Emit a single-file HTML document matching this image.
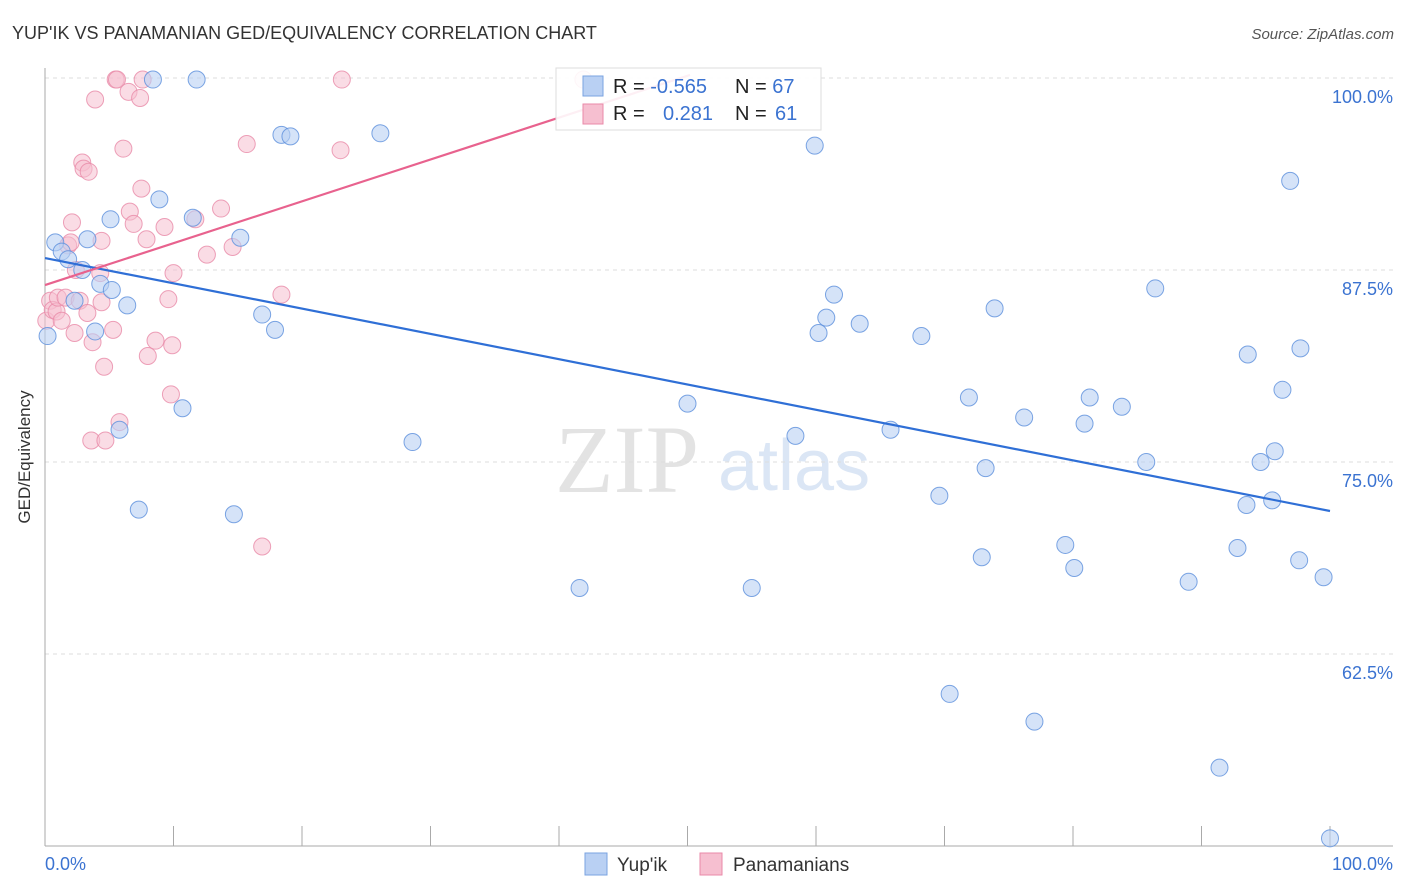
<!DOCTYPE html>
<html><head><meta charset="utf-8"><style>
body{margin:0;background:#fff;font-family:"Liberation Sans",sans-serif}
svg{display:block}
</style></head><body>
<svg id="c" width="1406" height="892" xmlns="http://www.w3.org/2000/svg">
<text x="12" y="39" font-size="18" fill="#333">YUP'IK VS PANAMANIAN GED/EQUIVALENCY CORRELATION CHART</text>
<text x="1394" y="39" font-size="15" fill="#555" font-style="italic" text-anchor="end">Source: ZipAtlas.com</text>
<text x="555" y="492" font-size="96" fill="#e3e3e3" font-family="Liberation Serif,serif">ZIP</text>
<text x="718" y="490" font-size="72" fill="#dbe6f5">atlas</text>
<g id="grid"></g>
<line x1="45" y1="68" x2="45" y2="846" stroke="#aaa"/>
<line x1="45" y1="846" x2="1393" y2="846" stroke="#aaa"/>
<text x="30" y="457" font-size="17" fill="#333" text-anchor="middle" transform="rotate(-90 30 457)">GED/Equivalency</text>
<text x="45" y="870" font-size="18" fill="#3b73d1">0.0%</text>
<text x="1393" y="870" font-size="18" fill="#3b73d1" text-anchor="end">100.0%</text>
<g id="pts"></g>
<g id="lines"></g>
<g>
<rect x="556" y="68" width="265" height="62" fill="#fff" fill-opacity="0.9" stroke="#ddd"/>
<rect x="583" y="76" width="20" height="20" fill="#b9d0f3" stroke="#7aa3e0"/>
<rect x="583" y="104" width="20" height="20" fill="#f6bfd0" stroke="#e98aa8"/>
<text x="613" y="93" font-size="20" fill="#222">R = <tspan fill="#3b73d1">-0.565</tspan><tspan x="735">N = </tspan><tspan fill="#3b73d1">67</tspan></text>
<text x="613" y="120" font-size="20" fill="#222">R = <tspan x="663" fill="#3b73d1">0.281</tspan><tspan x="735">N = </tspan><tspan x="775" fill="#3b73d1">61</tspan></text>
</g>
<g>
<rect x="585" y="853" width="22" height="22" fill="#b9d0f3" stroke="#7aa3e0"/>
<text x="617" y="871" font-size="19" fill="#333">Yup'ik</text>
<rect x="700" y="853" width="22" height="22" fill="#f6bfd0" stroke="#e98aa8"/>
<text x="733" y="871" font-size="19" fill="#333">Panamanians</text>
</g>
</svg>
<script>
const yTicks=[100,87.5,75,62.5];
const yTickLabels=["100.0%","87.5%","75.0%","62.5%"];
const xTicks=[0,10,20,30,40,50,60,70,80,90,100];
const yupikX=[0.2,0.8,1.3,1.8,2.3,2.9,3.3,3.9,4.3,5.2,5.8,6.4,5.1,7.3,8.4,8.9,10.7,11.5,11.8,14.7,15.2,16.9,17.9,18.4,19.1,26.1,28.6,41.6,50.0,55.0,58.4,59.9,60.2,60.8,61.4,63.4,65.8,68.2,69.6,70.4,71.9,72.9,73.2,73.9,76.2,77.0,79.4,80.1,80.9,81.3,83.8,85.7,86.4,89.0,91.4,92.8,93.5,93.6,94.6,95.5,95.7,96.3,96.9,97.6,97.7,99.5,100];
const yupikY=[83.2,89.3,88.7,88.2,85.5,87.5,89.5,83.5,86.6,86.2,77.1,85.2,90.8,71.9,99.9,92.1,78.5,90.9,99.9,71.6,89.6,84.6,83.6,96.3,96.2,96.4,76.3,66.8,78.8,66.8,76.7,95.6,83.4,84.4,85.9,84.0,77.1,83.2,72.8,59.9,79.2,68.8,74.6,85.0,77.9,58.1,69.6,68.1,77.5,79.2,78.6,75.0,86.3,67.2,55.1,69.4,72.2,82.0,75.0,72.5,75.7,79.7,93.3,68.6,82.4,67.5,50.5];
const panX=[0.1,0.4,0.6,0.9,1.0,1.3,1.6,1.8,2.0,2.1,2.3,2.4,2.7,2.9,3.0,3.3,3.4,3.6,3.7,3.9,4.3,4.4,4.4,4.6,4.7,5.3,5.5,5.6,5.8,6.1,6.5,6.6,6.9,7.4,7.5,7.6,7.9,8.0,8.6,9.3,9.6,9.8,9.9,10.0,11.7,12.6,13.7,14.6,15.7,16.9,18.4,23.0,23.1,41.9];
const panY=[84.2,85.5,84.9,84.8,85.7,84.2,85.7,89.1,89.3,90.6,83.4,87.5,85.5,94.5,94.1,84.7,93.9,76.4,82.8,98.6,87.3,85.4,89.4,81.2,76.4,83.6,99.9,99.9,77.6,95.4,99.1,91.3,90.5,98.7,92.8,99.9,89.5,81.9,82.9,90.3,85.6,79.4,82.6,87.3,90.8,88.5,91.5,89.0,95.7,69.5,85.9,95.3,99.9,99.9];
const yupikTrend=[[0,88.28],[100,71.81]];
const panTrend=[[0,86.52],[50.2,100.2]];
const NS="http://www.w3.org/2000/svg";
const X=v=>45+v*12.85;
const Y=v=>78+(100-v)*15.36;
function mk(t,a,p){const e=document.createElementNS(NS,t);for(const k in a)e.setAttribute(k,a[k]);p.appendChild(e);return e;}
const grid=document.getElementById('grid');
yTicks.forEach((t,i)=>{
 const l=mk('line',{x1:45,x2:1393,y1:Y(t),y2:Y(t),stroke:'#ddd','stroke-dasharray':'4 4'},grid);
 
 
 const tx=mk('text',{x:1393,y:Y(t)+25,'font-size':18,fill:'#3b73d1','text-anchor':'end'},grid);
 tx.textContent=yTickLabels[i];
 
 
});
xTicks.forEach(t=>{
 const l=mk('line',{x1:X(t),x2:X(t),y1:826,y2:846,stroke:'#aaa'},grid);
 
 
});
const pts=document.getElementById('pts');
panX.forEach((v,i)=>{
 const c=mk('circle',{cx:X(v),cy:Y(panY[i]),r:8.5,fill:'#f6bfd0','fill-opacity':0.55,stroke:'#e98aa8','stroke-opacity':0.8},pts);
 
 
});
yupikX.forEach((v,i)=>{
 const c=mk('circle',{cx:X(v),cy:Y(yupikY[i]),r:8.5,fill:'#b9d0f3','fill-opacity':0.6,stroke:'#5b8fdc','stroke-opacity':0.8},pts);
 
 
});
const lines=document.getElementById('lines');
const b=mk('line',{x1:X(yupikTrend[0][0]),y1:Y(yupikTrend[0][1]),x2:X(yupikTrend[1][0]),y2:Y(yupikTrend[1][1]),stroke:'#2f6fd6','stroke-width':2.2},lines);


const p=mk('line',{x1:X(panTrend[0][0]),y1:Y(panTrend[0][1]),x2:X(panTrend[1][0]),y2:Y(panTrend[1][1]),stroke:'#e8628e','stroke-width':2.2},lines);


</script>
</body></html>
